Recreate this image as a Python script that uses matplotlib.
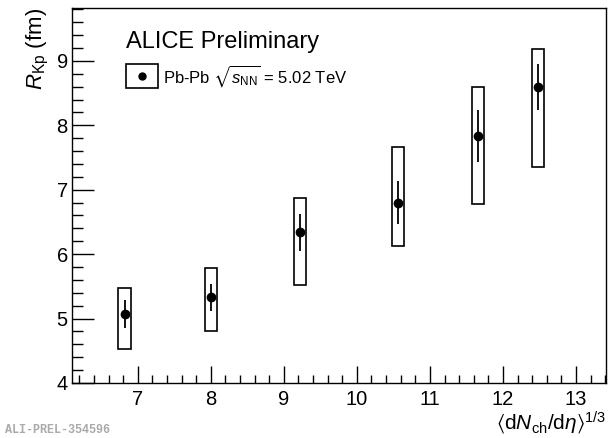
import numpy as np
import matplotlib
matplotlib.use('Agg')
from matplotlib import pyplot as plt
from matplotlib.patches import Rectangle
from matplotlib.ticker import MultipleLocator

# multiplicity^(1/3) and femtoscopic radius
mult = [6.82, 8.00, 9.22, 10.56, 11.66, 12.48]
radius = [5.07, 5.33, 6.34, 6.80, 7.83, 8.59]
stat_err = [0.22, 0.21, 0.29, 0.33, 0.40, 0.36]
sys_low = [4.52, 4.80, 5.52, 6.12, 6.78, 7.35]
sys_high = [5.47, 5.78, 6.87, 7.67, 8.59, 9.19]
box_width = 0.17

plt.rcParams['font.family'] = ['Liberation Sans', 'DejaVu Sans']
plt.rcParams['mathtext.fontset'] = 'custom'
plt.rcParams['mathtext.rm'] = 'Liberation Sans'
plt.rcParams['mathtext.it'] = 'Liberation Sans:italic'
plt.rcParams['mathtext.bf'] = 'Liberation Sans:bold'
plt.rcParams['mathtext.fallback'] = 'stixsans'


def main():
    fig = plt.figure(figsize=(6.1, 4.38), dpi=100)
    ax = fig.add_axes([0.118, 0.1256, 0.8754, 0.8561])

    for x, lo, hi in zip(mult, sys_low, sys_high):
        ax.add_patch(Rectangle((x - box_width / 2, lo), box_width, hi - lo,
                               fill=False, edgecolor='black', lw=1.2))
    ax.errorbar(mult, radius, yerr=stat_err, fmt='o', color='black',
                ms=6, elinewidth=1.3, capsize=0)

    ax.set_xlim(6.1, 13.41)
    ax.set_ylim(4.0, 9.82)
    ax.xaxis.set_major_locator(MultipleLocator(1))
    ax.xaxis.set_minor_locator(MultipleLocator(0.2))
    ax.yaxis.set_major_locator(MultipleLocator(1))
    ax.yaxis.set_minor_locator(MultipleLocator(0.2))
    ax.tick_params(which='both', direction='in', top=False, right=False,
                   labelsize=14.5, width=1)
    ax.tick_params(axis='x', which='major', length=12, pad=5)
    ax.tick_params(axis='x', which='minor', length=6)
    ax.tick_params(axis='y', which='major', length=16, pad=3)
    ax.tick_params(axis='y', which='minor', length=8)
    for sp in ax.spines.values():
        sp.set_linewidth(1)

    ax.set_xlabel(r'$\langle\mathrm{d}N_{\mathrm{ch}}/\mathrm{d}\eta\rangle^{1/3}$',
                  loc='right', fontsize=15, labelpad=1)
    ax.set_ylabel(r'$R_{\mathrm{Kp}}$ (fm)', loc='top', fontsize=16,
                  labelpad=4)

    ax.text(0.101, 0.909, 'ALICE Preliminary', transform=ax.transAxes,
            fontsize=17, va='center', ha='left')
    ax.add_patch(Rectangle((0.101, 0.787), 0.060, 0.064, transform=ax.transAxes,
                           fill=False, edgecolor='black', lw=1.2))
    ax.plot([0.131], [0.819], 'o', color='black', ms=5, transform=ax.transAxes)
    ax.text(0.170, 0.819, r'Pb-Pb $\sqrt{s_{\mathrm{NN}}}$ = 5.02 TeV',
            transform=ax.transAxes, fontsize=12, va='center', ha='left')

    fig.text(0.008, 0.004, 'ALI-PREL-354596', family='Liberation Mono',
             fontsize=8.5, color='#aaaaaa', weight='bold', va='bottom')

    fig.savefig('out.png', dpi=100)


if __name__ == '__main__':
    main()
